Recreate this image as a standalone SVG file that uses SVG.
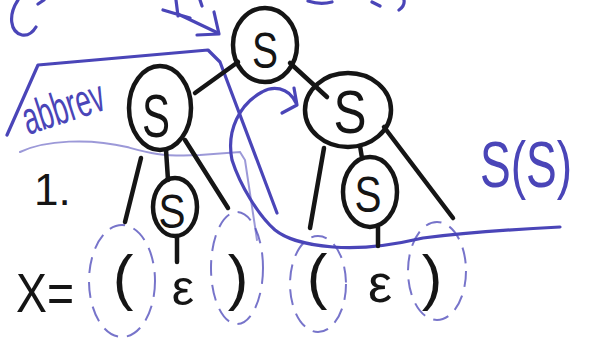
<svg xmlns="http://www.w3.org/2000/svg" width="589" height="349" viewBox="0 0 589 349">
<style>
.bg{fill:#ffffff}
.node{fill:none;stroke:#151515;stroke-width:4.5}
.edge{fill:none;stroke:#151515;stroke-width:4.5;stroke-linecap:round}
.s{font-family:"Liberation Sans",Arial,sans-serif;fill:#151515;text-anchor:middle}
.term{font-family:"Liberation Sans",Arial,sans-serif;fill:#151515;text-anchor:middle}
.ink{fill:none;stroke:#4a45b8;stroke-width:3.2;stroke-linecap:round;stroke-linejoin:round}
.faint{fill:none;stroke:#4a45b8;stroke-width:2;stroke-linecap:round;opacity:0.55}
.dash{fill:none;stroke:#4a45b8;stroke-width:2;stroke-dasharray:16 9;opacity:0.75}
.btxt{font-family:"Liberation Sans",Arial,sans-serif;fill:#4a45b8}
</style>
<rect class="bg" x="0" y="0" width="589" height="349"/>

<g id="annotations">
  <path class="ink" d="M18 0 C 8 15, 10 32, 22 35 C 28 36, 33 32, 36 27"/>
  <path class="ink" d="M38 4 L44 0"/>
  <path class="ink" d="M308 1 Q 320 5 332 2 M372 2 L380 6 M404 0 Q 405 6 399 10"/>
  <path class="ink" d="M163 10 L190 18 M176 0 L178 16 M200 0 L202 6 M178 14 L218 33"/>
  <path class="ink" d="M197 35 L219 34 L214 12"/>
  <path class="ink" d="M7 135 L38 65 L208 50 L220 62 L277 213"/>
  <path class="faint" d="M20 152 C 45 140, 90 138, 127 147 C 145 152, 160 157, 200 155 L240 152 L245 160 L257 240"/>
  <path class="ink" d="M262 92 C 272 86, 288 86, 296 103 M262 92 C 240 104, 226 130, 232 160 C 240 185, 258 215, 275 230 C 285 238, 300 244, 333 247 C 355 249, 380 248, 423 238 C 470 232, 520 229, 560 227"/>
  <path class="ink" d="M282 113 L297 105 L294 88"/>
  <text class="btxt" x="28" y="135" font-size="46" textLength="84" lengthAdjust="spacingAndGlyphs" transform="rotate(-18 28 135)">abbrev</text>
  <g transform="translate(480 187) scale(0.72 1)">
    <text class="btxt" x="0" y="0" font-size="64">S(S)</text>
  </g>
  <ellipse class="dash" cx="122" cy="281" rx="33" ry="56"/>
  <ellipse class="dash" cx="237" cy="268" rx="26" ry="56"/>
  <ellipse class="dash" cx="318" cy="284" rx="28" ry="48"/>
  <ellipse class="dash" cx="437" cy="271" rx="29" ry="49"/>
  <text class="term" x="16" y="312" font-size="56" style="text-anchor:start" textLength="58" lengthAdjust="spacingAndGlyphs">X=</text>
  <text class="term" x="34" y="205" font-size="44" style="text-anchor:start">1.</text>
</g>

<g id="connectors">
  <path class="edge" d="M195 93 L238 62"/>
  <path class="edge" d="M290 63 L327 97"/>
  <path class="edge" d="M141 158 L125 222"/>
  <path class="edge" d="M166 150 L168 180"/>
  <path class="edge" d="M185 140 L228 208"/>
  <path class="edge" d="M177 237 L177 262"/>
  <path class="edge" d="M324 148 L310 228"/>
  <path class="edge" d="M360 146 L362 158"/>
  <path class="edge" d="M384 127 L453 218"/>
  <path class="edge" d="M378 227 L378 246"/>
</g>

<g id="n_root">
  <ellipse class="node" cx="265" cy="45" rx="32" ry="37"/>
  <text class="s" x="265" y="68" font-size="50" textLength="26" lengthAdjust="spacingAndGlyphs">S</text>
</g>
<g id="n_left">
  <ellipse class="node" cx="160" cy="108" rx="31" ry="42"/>
  <text class="s" x="156" y="137" font-size="62" textLength="28" lengthAdjust="spacingAndGlyphs">S</text>
</g>
<g id="n_right">
  <ellipse class="node" cx="348" cy="110" rx="43" ry="37"/>
  <text class="s" x="350" y="133" font-size="62" textLength="33" lengthAdjust="spacingAndGlyphs">S</text>
</g>
<g id="n_left_child">
  <ellipse class="node" cx="175" cy="207" rx="22" ry="29"/>
  <text class="s" x="172" y="228" font-size="48" textLength="27" lengthAdjust="spacingAndGlyphs">S</text>
</g>
<g id="n_right_child">
  <ellipse class="node" cx="370" cy="192" rx="27" ry="35"/>
  <text class="s" x="368" y="212" font-size="50" textLength="27" lengthAdjust="spacingAndGlyphs">S</text>
</g>

<g id="t_lparen1"><text class="term" x="123" y="298" font-size="62">(</text></g>
<g id="t_eps1"><text class="term" x="183" y="305" font-size="50">ε</text></g>
<g id="t_rparen1"><text class="term" x="238" y="298" font-size="62">)</text></g>
<g id="t_lparen2"><text class="term" x="317" y="297" font-size="62">(</text></g>
<g id="t_eps2"><text class="term" x="380" y="302" font-size="54">ε</text></g>
<g id="t_rparen2"><text class="term" x="432" y="298" font-size="62">)</text></g>
</svg>
